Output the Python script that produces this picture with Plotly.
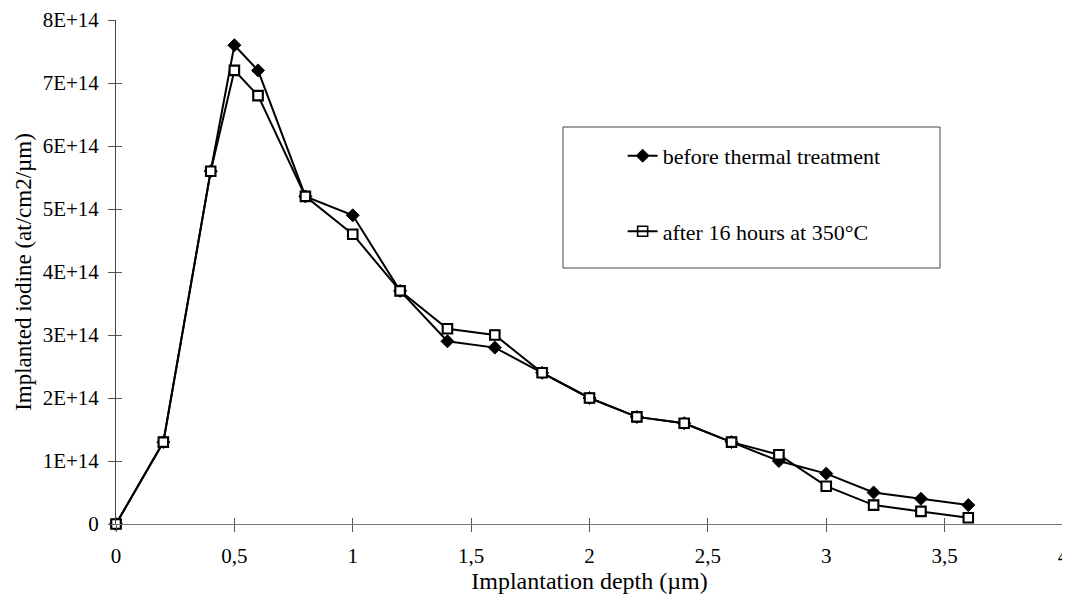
import plotly.graph_objects as go

depth = [0, 0.2, 0.4, 0.5, 0.6, 0.8, 1.0, 1.2, 1.4, 1.6, 1.8, 2.0, 2.2, 2.4, 2.6, 2.8, 3.0, 3.2, 3.4, 3.6]
before = [0, 1.3e14, 5.6e14, 7.6e14, 7.2e14, 5.2e14, 4.9e14, 3.7e14, 2.9e14, 2.8e14, 2.4e14,
          2.0e14, 1.7e14, 1.6e14, 1.3e14, 1.0e14, 0.8e14, 0.5e14, 0.4e14, 0.3e14]
after = [0, 1.3e14, 5.6e14, 7.2e14, 6.8e14, 5.2e14, 4.6e14, 3.7e14, 3.1e14, 3.0e14, 2.4e14,
         2.0e14, 1.7e14, 1.6e14, 1.3e14, 1.1e14, 0.6e14, 0.3e14, 0.2e14, 0.1e14]
names = ["before thermal treatment", "after 16 hours at 350°C"]

x_tickvals = [0, 0.5, 1, 1.5, 2, 2.5, 3, 3.5, 4]
x_ticktext = ["0", "0,5", "1", "1,5", "2", "2,5", "3", "3,5", "4"]
y_tickvals = [0, 1e14, 2e14, 3e14, 4e14, 5e14, 6e14, 7e14, 8e14]
y_ticktext = ["0", "1E+14", "2E+14", "3E+14", "4E+14", "5E+14", "6E+14", "7E+14", "8E+14"]

FONT = "Liberation Serif"

fig = go.Figure()
fig.add_trace(go.Scatter(
    x=depth, y=before, name=names[0], mode="lines+markers", legendgroup="a", cliponaxis=False,
    line=dict(color="black", width=2),
    marker=dict(symbol="diamond", size=10, color="black", line=dict(color="black", width=1)),
))
fig.add_trace(go.Scatter(
    x=depth, y=after, name=names[1], mode="lines+markers", legendgroup="b", cliponaxis=False,
    line=dict(color="black", width=2),
    marker=dict(symbol="square-open", size=10, color="black", line=dict(width=1.6)),
))
# white fill behind open squares
fig.add_trace(go.Scatter(
    x=depth, y=after, mode="markers", showlegend=False, hoverinfo="skip", cliponaxis=False,
    marker=dict(symbol="square", size=9, color="white", line=dict(color="black", width=1.6)),
))

fig.update_layout(
    width=1062, height=590,
    margin=dict(l=108, r=7, t=12, b=74),
    paper_bgcolor="white", plot_bgcolor="white",
    font=dict(family=FONT, size=21, color="black"),
    showlegend=True,
    legend=dict(
        x=0.535, y=0.772, xanchor="left", yanchor="top",
        bgcolor="rgba(0,0,0,0)", borderwidth=0,
        font=dict(family=FONT, size=22, color="black"),
        tracegroupgap=44, traceorder="grouped", itemwidth=30,
    ),
    xaxis=dict(
        range=[0, 4], tickvals=x_tickvals, ticktext=x_ticktext, automargin=False,
        showgrid=False, zeroline=False, showline=True, linecolor="#777", linewidth=1,
        ticks="outside", ticklen=7, tickcolor="#555", tickwidth=1, ticklabelstandoff=6,
        ticklabeloverflow="allow",
        title=dict(text="Implantation depth (µm)", font=dict(family=FONT, size=24), standoff=4),
        tickfont=dict(family=FONT, size=21),
    ),
    yaxis=dict(
        range=[0, 8e14], tickvals=y_tickvals, ticktext=y_ticktext, automargin=False,
        showgrid=False, zeroline=False, showline=True, linecolor="#444", linewidth=1,
        ticks="outside", ticklen=7, tickcolor="#555", tickwidth=1, ticklabelstandoff=5,
        ticklabeloverflow="allow",
        title=dict(text="Implanted iodine (at/cm2/µm)", font=dict(family=FONT, size=23), standoff=4),
        tickfont=dict(family=FONT, size=21),
    ),
    xaxis2=dict(
        range=[0, 4], tickvals=x_tickvals, showticklabels=False, overlaying="x",
        showgrid=False, zeroline=False, ticks="inside", ticklen=6, tickcolor="#555", anchor="y",
    ),
    yaxis2=dict(
        range=[0, 8e14], tickvals=y_tickvals, showticklabels=False, overlaying="y",
        showgrid=False, zeroline=False, ticks="inside", ticklen=6, tickcolor="#555", anchor="x",
    ),
)
# dummy trace to show the inside ticks axes
fig.add_trace(go.Scatter(x=[None], y=[None], xaxis="x2", yaxis="y2", showlegend=False, hoverinfo="skip"))

# legend frame
fig.add_shape(type="rect", xref="paper", yref="paper",
              x0=(563 - 116) / 947, x1=(940 - 116) / 947,
              y0=(524 - 268) / 504, y1=(524 - 127) / 504,
              line=dict(color="#444", width=1), fillcolor="rgba(0,0,0,0)")

fig.write_html("out.html")
